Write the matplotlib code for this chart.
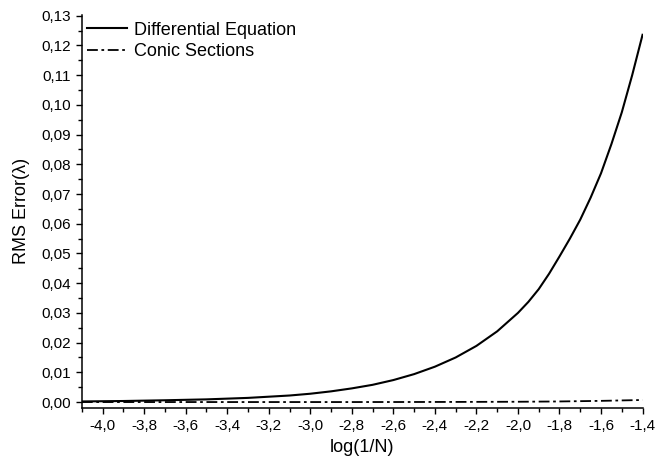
import matplotlib
matplotlib.use("Agg")
import matplotlib.pyplot as plt
from matplotlib.ticker import MultipleLocator, FuncFormatter

plt.rcParams['font.family'] = ['Liberation Sans', 'DejaVu Sans']

log_inv_n = [-4.1, -3.9, -3.7, -3.5, -3.3, -3.1, -3.0, -2.9, -2.8, -2.7, -2.6,
             -2.5, -2.4, -2.3, -2.2, -2.1, -2.0, -1.95, -1.9, -1.85, -1.8,
             -1.75, -1.7, -1.65, -1.6, -1.55, -1.5, -1.45, -1.4]
diff_eq = [0.0002, 0.00035, 0.0006, 0.0009, 0.0014, 0.0022, 0.0028, 0.0036,
           0.0046, 0.0058, 0.0074, 0.0094, 0.0119, 0.0150, 0.0189, 0.0238,
           0.0300, 0.0337, 0.0380, 0.0432, 0.0490, 0.0550, 0.0614, 0.0688,
           0.0770, 0.0868, 0.0975, 0.1100, 0.1236]
conic = [0.0, 0.0, 0.0, 0.0, 0.0, 0.0, 0.0, 0.0, 0.0, 0.00001, 0.00001,
         0.00002, 0.00003, 0.00004, 0.00006, 0.00008, 0.0001, 0.00012, 0.00015,
         0.00017, 0.0002, 0.00025, 0.0003, 0.00035, 0.0004, 0.00047, 0.00055,
         0.00062, 0.0007]

fig = plt.figure(figsize=(6.55, 4.65), dpi=100)
ax = fig.add_axes([0.125, 0.1226, 0.856, 0.8454])

ax.plot(log_inv_n, diff_eq, color='black', lw=1.5, label='Differential Equation')
ax.plot(log_inv_n, conic, color='black', lw=1.3, dashes=(6, 2, 1.5, 2),
        label='Conic Sections')

ax.set_xlim(-4.1, -1.4)
ax.set_ylim(-0.002, 0.1303)

ax.xaxis.set_major_locator(MultipleLocator(0.2))
ax.xaxis.set_minor_locator(MultipleLocator(0.1))
ax.yaxis.set_major_locator(MultipleLocator(0.01))
ax.yaxis.set_minor_locator(MultipleLocator(0.005))
ax.xaxis.set_major_formatter(FuncFormatter(lambda v, p: f"{v:.1f}".replace('.', ',')))
ax.yaxis.set_major_formatter(FuncFormatter(lambda v, p: f"{v:.2f}".replace('.', ',')))

for s in ['top', 'right']:
    ax.spines[s].set_visible(False)
for s in ['left', 'bottom']:
    ax.spines[s].set_linewidth(1.1)

ax.tick_params(which='major', direction='out', length=4.5, width=1.0, labelsize=11)
ax.tick_params(which='minor', direction='out', length=2.8, width=1.0)

ax.set_xlabel('log(1/N)', fontsize=13, labelpad=4)
ax.set_ylabel('RMS Error(λ)', fontsize=13, labelpad=8)

ax.legend(loc='upper left', frameon=False, fontsize=13, handlelength=2.2,
          handletextpad=0.4, borderaxespad=0.2, labelspacing=0.25,
          bbox_to_anchor=(-0.01, 1.01))

fig.savefig('out.png', dpi=100)
